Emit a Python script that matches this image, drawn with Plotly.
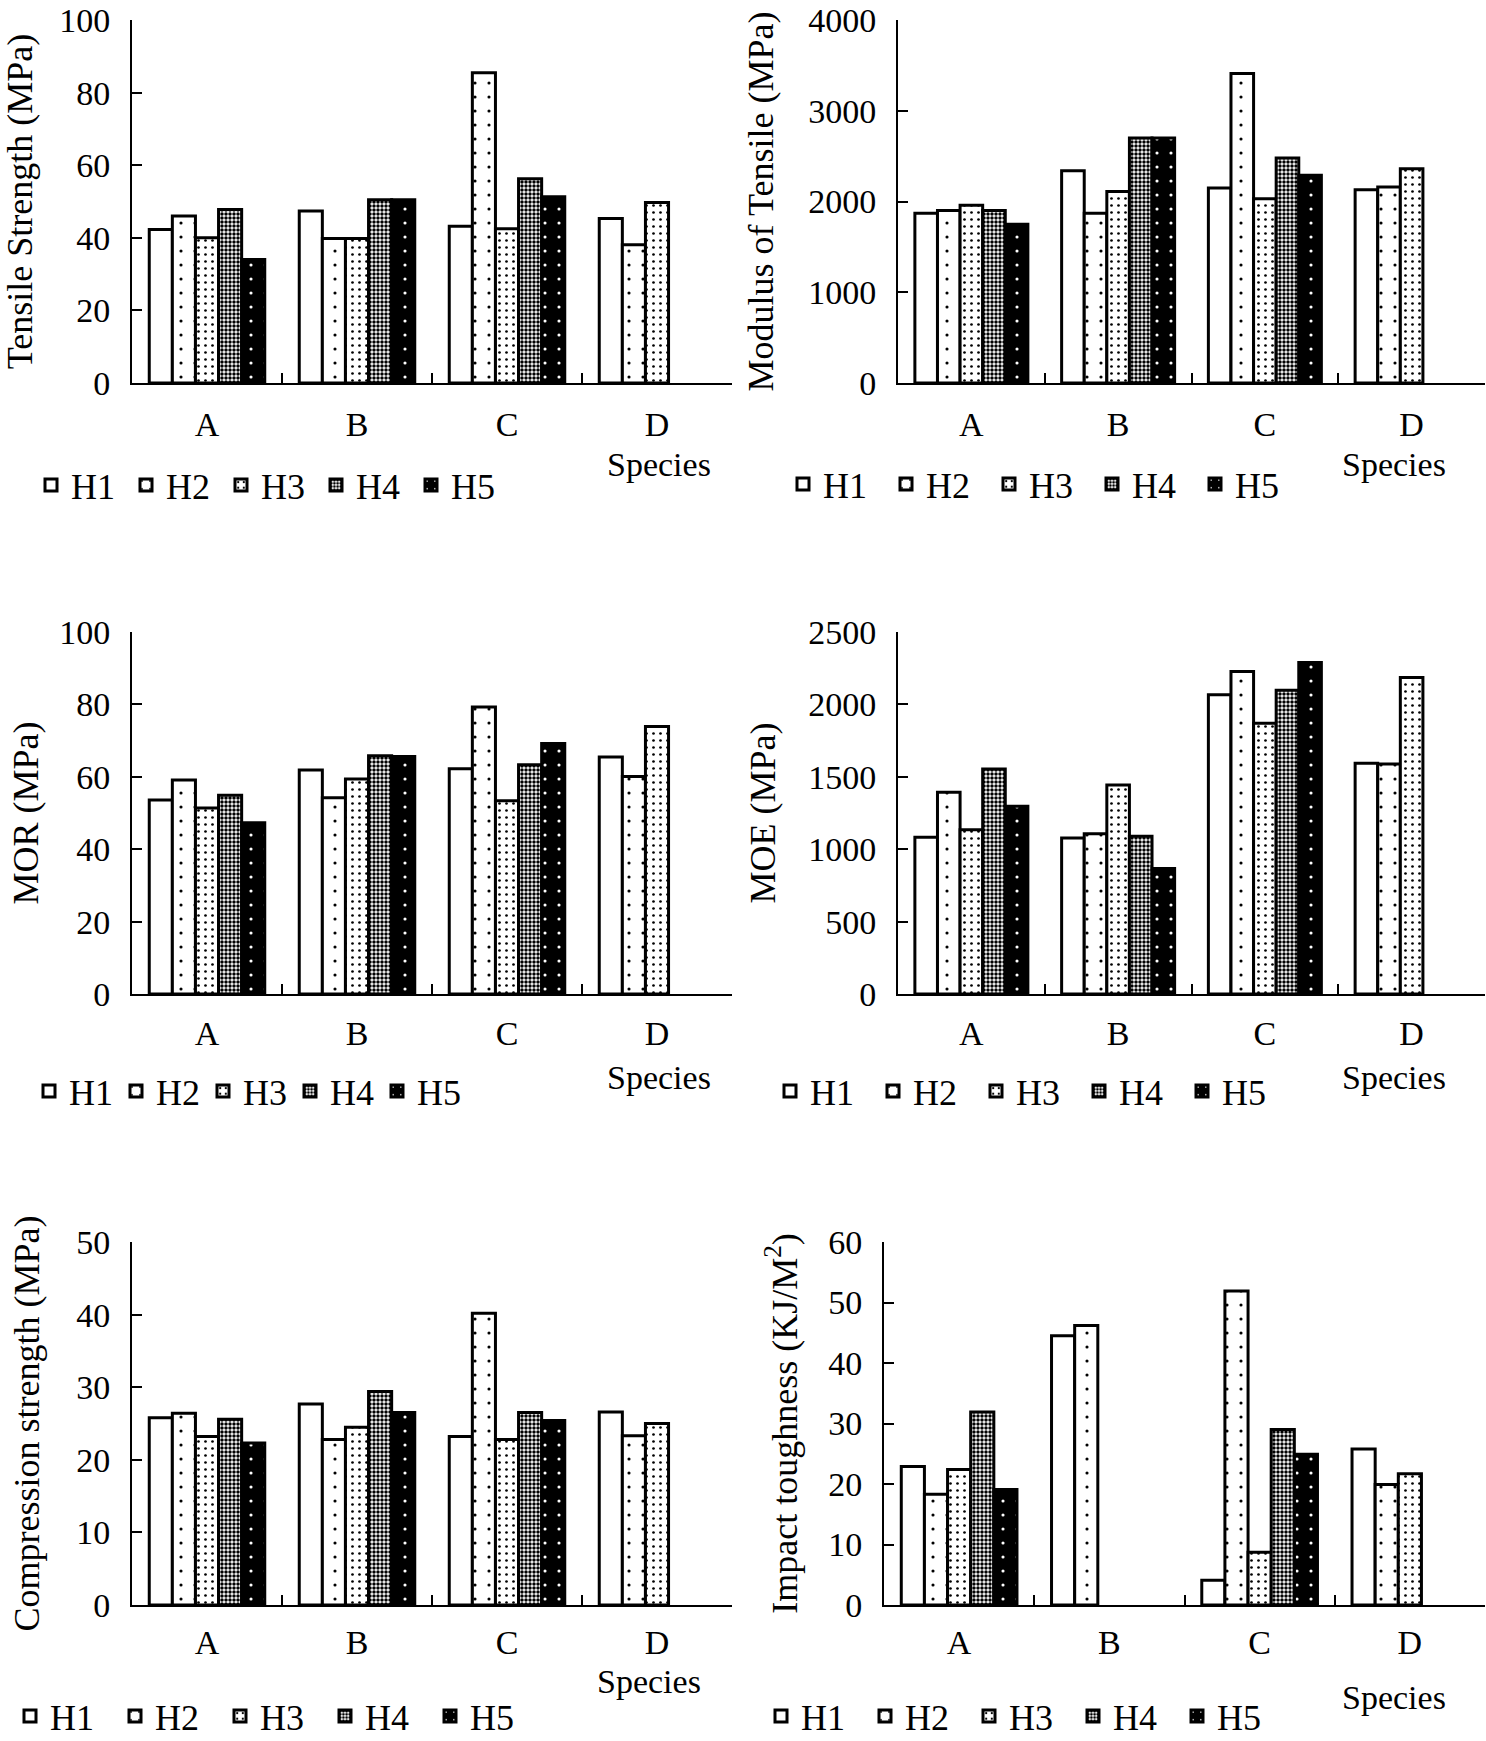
import plotly.graph_objects as go

W, H = 1486, 1741

species = ['A', 'B', 'C', 'D']
series = ['H1', 'H2', 'H3', 'H4', 'H5']

# one row per series (H1..H5), one column per species (A..D)
tensile_strength = [
    [42.3, 47.4, 43.2, 45.3],
    [46.0, 39.8, 85.5, 38.1],
    [40.0, 39.8, 42.5, 49.7],
    [47.8, 50.5, 56.3, None],
    [34.0, 50.5, 51.3, None],
]
tensile_modulus = [
    [1870, 2340, 2150, 2130],
    [1900, 1870, 3410, 2160],
    [1960, 2110, 2030, 2360],
    [1900, 2700, 2480, None],
    [1750, 2700, 2290, None],
]
mor = [
    [53.6, 61.9, 62.2, 65.5],
    [59.1, 54.2, 79.3, 60.1],
    [51.4, 59.4, 53.4, 73.9],
    [54.9, 65.8, 63.3, None],
    [47.3, 65.6, 69.2, None],
]
moe = [
    [1083, 1077, 2066, 1593],
    [1393, 1107, 2227, 1589],
    [1134, 1444, 1869, 2186],
    [1554, 1090, 2098, None],
    [1297, 866, 2289, None],
]
compression = [
    [25.8, 27.7, 23.2, 26.6],
    [26.4, 22.8, 40.2, 23.3],
    [23.2, 24.5, 22.8, 25.0],
    [25.6, 29.4, 26.5, None],
    [22.3, 26.5, 25.4, None],
]
impact = [
    [22.9, 44.5, 4.1, 25.8],
    [18.3, 46.2, 51.9, 19.9],
    [22.4, None, 8.7, 21.7],
    [31.9, None, 29.0, None],
    [19.1, None, 24.9, None],
]

FONT = 'Liberation Serif, Times New Roman, serif'
FS = 34

# bar fill per series: (base colour, pattern)
styles = [
    ('white', dict(shape='')),
    ('white', dict(shape='.', fgcolor='black', bgcolor='white', size=14, solidity=0.04, fillmode='replace')),
    ('white', dict(shape='.', fgcolor='black', bgcolor='white', size=7, solidity=0.12, fillmode='replace')),
    ('white', dict(shape='.', fgcolor='black', bgcolor='white', size=4, solidity=0.6, fillmode='replace')),
    ('black', dict(shape='.', fgcolor='white', bgcolor='black', size=14, solidity=0.04, fillmode='replace')),
]

# panel frames in pixels: left, right, top, bottom of plot area
panels = [
    dict(data=tensile_strength, title='Tensile Strength (MPa)', rng=[0, 100], dtick=20,
         box=(132, 732, 20, 383), standoff=20, xstand=10, species=(659, 465), legend=(31, 485, 50)),
    dict(data=tensile_modulus, title='Modulus of Tensile (MPa)', rng=[0, 4000], dtick=1000,
         box=(898, 1485, 20, 383), standoff=24, xstand=10, species=(1394, 465), legend=(783, 484, 58)),
    dict(data=mor, title='MOR (MPa)', rng=[0, 100], dtick=20,
         box=(132, 732, 632, 994), standoff=10, xstand=8, species=(659, 1077), legend=(29, 1091, 42)),
    dict(data=moe, title='MOE (MPa)', rng=[0, 2500], dtick=500,
         box=(898, 1485, 632, 994), standoff=22, xstand=8, species=(1394, 1077), legend=(770, 1091, 58)),
    dict(data=compression, title='Compression strength (MPa)', rng=[0, 50], dtick=10,
         box=(132, 732, 1242, 1605), standoff=26, xstand=6, species=(649, 1681), legend=(10, 1716, 60)),
    dict(data=impact, title='Impact toughness (KJ/M<sup>2</sup>)', rng=[0, 60], dtick=10,
         box=(884, 1485, 1242, 1605), standoff=20, xstand=6, species=(1394, 1697), legend=(761, 1716, 59)),
]


def px(x, y):
    # page pixel -> paper fraction
    return x / W, 1 - y / H


fig = go.Figure()
layout = dict(
    width=W, height=H,
    margin=dict(l=0, r=0, t=0, b=0, autoexpand=False),
    paper_bgcolor='white', plot_bgcolor='white',
    font=dict(family=FONT, size=FS, color='black'),
    barmode='group', bargap=0.23, bargroupgap=0,
    annotations=[],
)

for n, p in enumerate(panels, start=1):
    sfx = '' if n == 1 else str(n)
    lg = 'legend' if n == 1 else 'legend' + str(n)
    for i, name in enumerate(series):
        color, pattern = styles[i]
        fig.add_trace(go.Bar(
            x=species, y=p['data'][i], name=name,
            xaxis='x' + sfx, yaxis='y' + sfx, legend=lg,
            marker=dict(color=color, line=dict(color='black', width=3), pattern=pattern),
        ))
    l, r, t, b = p['box']
    x0, y0 = px(l, b)
    x1, y1 = px(r, t)
    layout['xaxis' + sfx] = dict(
        domain=[x0, x1], anchor='y' + sfx, type='category',
        showline=True, linecolor='black', linewidth=2,
        ticks='inside', tickson='boundaries', ticklen=10, tickwidth=2, tickcolor='black',
        ticklabelstandoff=p['xstand'], tickfont=dict(family=FONT, size=FS), showgrid=False,
    )
    layout['yaxis' + sfx] = dict(
        domain=[y0, y1], anchor='x' + sfx, range=p['rng'], dtick=p['dtick'],
        showline=True, linecolor='black', linewidth=2,
        ticks='inside', ticklen=10, tickwidth=2, tickcolor='black',
        ticklabelstandoff=13, ticklabeloverflow='allow',
        tickfont=dict(family=FONT, size=FS), showgrid=False, zeroline=False,
        title=dict(text=p['title'], font=dict(family=FONT, size=36), standoff=p['standoff']),
    )
    lx, ly, ew = p['legend']
    gx, gy = px(lx, ly)
    layout[lg] = dict(
        orientation='h', x=gx, y=gy, xanchor='left', yanchor='middle',
        font=dict(family=FONT, size=36), entrywidth=ew, entrywidthmode='pixels',
        bgcolor='rgba(0,0,0,0)', borderwidth=0,
    )
    sx, sy = px(*p['species'])
    layout['annotations'].append(dict(
        text='Species', x=sx, y=sy, xref='paper', yref='paper',
        xanchor='center', yanchor='middle', showarrow=False, font=dict(family=FONT, size=FS),
    ))

fig.update_layout(**layout)
# drop the default page margin so the figure sits at the window's corner
fig.write_html('out.html', config={'displayModeBar': False},
               post_script="document.body.style.margin='0';")
